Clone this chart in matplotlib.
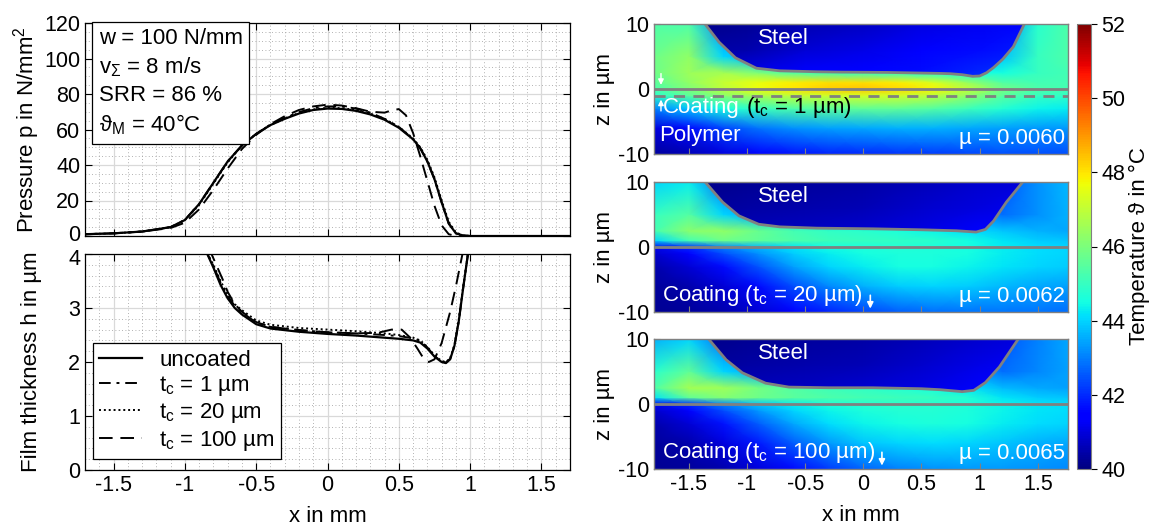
import numpy as np
import matplotlib
matplotlib.use("Agg")
import matplotlib.pyplot as plt
import matplotlib.transforms as mtransforms
from matplotlib.patches import Polygon
from matplotlib.ticker import MultipleLocator, FormatStrFormatter

plt.rcParams['font.family'] = ['Liberation Sans', 'DejaVu Sans']
plt.rcParams['font.size'] = 16
plt.rcParams['xtick.labelsize'] = 15.5
plt.rcParams['ytick.labelsize'] = 15.5
plt.rcParams['mathtext.fontset'] = 'custom'
plt.rcParams['mathtext.rm'] = 'Liberation Sans'
plt.rcParams['mathtext.it'] = 'Liberation Sans:italic'
plt.rcParams['axes.unicode_minus'] = False

# ---- pressure curves (x in mm, p in N/mm^2)
x_p = [-1.7, -1.5, -1.3, -1.1, -1.0, -0.9, -0.8, -0.7, -0.6, -0.5, -0.4, -0.3, -0.2, -0.1, 0.0,
       0.1, 0.2, 0.3, 0.4, 0.5, 0.6, 0.65, 0.7, 0.75, 0.8, 0.85, 0.9, 0.95, 1.0, 1.7]
p_uncoated = [1.0, 1.5, 2.5, 5.0, 9.0, 18, 30, 42, 51, 57.5, 62.5, 66, 69, 71, 71.8,
              71.6, 70.5, 68.5, 65.5, 61, 54.5, 49.5, 42, 32, 19, 7, 1.5, 0.3, 0, 0]
p_1um = [1.0, 1.5, 2.5, 5.0, 9.0, 18, 30, 42, 51, 57.5, 62.8, 66.5, 69.8, 72, 73,
         73, 71.8, 69.5, 66, 61.5, 54.5, 49.5, 42, 32, 19, 7, 1.5, 0.3, 0, 0]
p_20um = [1.0, 1.5, 2.5, 5.0, 9.0, 17.5, 29.5, 41.5, 51, 57.5, 62.5, 66.3, 69.3, 71.3, 72.2,
          72, 71, 69, 66, 61.5, 55, 50, 43, 33, 20, 8, 2, 0.3, 0, 0]
x_p100 = [-1.7, -1.5, -1.3, -1.1, -1.0, -0.9, -0.8, -0.7, -0.6, -0.5, -0.4, -0.3, -0.2, -0.1, 0.0,
          0.1, 0.2, 0.3, 0.4, 0.45, 0.5, 0.55, 0.6, 0.65, 0.7, 0.75, 0.8, 0.85, 0.9, 1.7]
p_100um = [1.0, 1.5, 2.5, 4.5, 7.5, 15, 26, 38, 49, 57, 63, 67.5, 71, 73, 74,
           73.5, 72, 70, 69.5, 70.8, 71.5, 68, 58, 45, 31, 17, 6, 1, 0, 0]

# ---- film thickness curves (x in mm, h in um)
x_h = [-0.86, -0.8, -0.75, -0.7, -0.65, -0.6, -0.5, -0.4, -0.2, 0.0, 0.2, 0.4, 0.5, 0.6, 0.65,
       0.7, 0.75, 0.8, 0.83, 0.86, 0.89, 0.92, 0.95, 0.99]
h_uncoated = [4.1, 3.75, 3.43, 3.18, 3.0, 2.88, 2.7, 2.62, 2.56, 2.52, 2.49, 2.45, 2.43, 2.4, 2.36,
              2.25, 2.1, 2.0, 1.98, 2.05, 2.3, 2.75, 3.35, 4.1]
h_1um = [4.1, 3.78, 3.47, 3.22, 3.04, 2.92, 2.73, 2.65, 2.59, 2.55, 2.53, 2.5, 2.48, 2.44, 2.39,
         2.27, 2.11, 2.01, 1.99, 2.06, 2.3, 2.75, 3.35, 4.1]
h_20um = [4.1, 3.8, 3.5, 3.25, 3.07, 2.96, 2.77, 2.69, 2.63, 2.6, 2.57, 2.53, 2.5, 2.45, 2.4,
          2.28, 2.12, 2.02, 2.0, 2.07, 2.32, 2.78, 3.38, 4.1]
x_h100 = [-0.83, -0.78, -0.73, -0.7, -0.65, -0.6, -0.5, -0.4, -0.2, 0.0, 0.2, 0.35, 0.45, 0.52,
          0.58, 0.63, 0.67, 0.71, 0.75, 0.8, 0.86, 0.9, 0.95, 0.97]
h_100um = [4.1, 3.8, 3.5, 3.3, 3.07, 2.93, 2.74, 2.65, 2.59, 2.55, 2.53, 2.54, 2.6, 2.6,
           2.45, 2.25, 2.08, 2.0, 2.05, 2.35, 2.93, 3.4, 4.05, 4.3]

# ---- temperature fields (deg C); rows = z, cols = x
x_grid = [-1.8, -1.5, -1.2, -0.9, -0.6, -0.3, 0.0, 0.3, 0.6, 0.9, 1.2, 1.5, 1.76]
z_grid = [-10, -6, -3, -1, 0, 1, 2.5, 5, 10]
T_1um = [
    [40.3, 40.6, 41.0, 41.4, 41.7, 41.9, 42.0, 42.1, 42.2, 42.3, 42.4, 42.4, 42.4],
    [41.0, 41.6, 42.3, 42.9, 43.2, 43.4, 43.5, 43.6, 43.6, 43.5, 43.4, 43.3, 43.3],
    [43.0, 43.8, 44.5, 45.0, 45.3, 45.5, 45.6, 45.6, 45.4, 45.1, 44.7, 44.4, 44.3],
    [44.8, 45.5, 46.2, 46.7, 47.0, 47.2, 47.3, 47.2, 46.9, 46.3, 45.5, 45.0, 44.9],
    [45.3, 46.0, 46.9, 47.6, 48.0, 48.3, 48.4, 48.2, 47.8, 47.0, 45.9, 45.3, 45.2],
    [45.5, 46.3, 47.1, 47.6, 47.9, 48.1, 48.1, 47.9, 47.4, 46.4, 45.4, 45.2, 45.2],
    [45.8, 46.5, 46.6, 46.0, 45.3, 45.1, 45.0, 44.9, 44.7, 44.5, 44.5, 45.0, 45.2],
    [45.8, 46.3, 44.0, 43.5, 43.5, 43.5, 43.5, 43.5, 43.5, 43.5, 43.8, 45.0, 45.3],
    [45.3, 45.3, 43.0, 43.0, 43.0, 43.0, 43.0, 43.0, 43.0, 43.0, 43.0, 44.8, 45.3],
]
T_20um = [
    [40.2, 40.3, 40.5, 40.9, 41.4, 41.9, 42.3, 42.6, 42.8, 42.9, 42.9, 42.9, 42.8],
    [40.3, 40.5, 40.9, 41.6, 42.4, 43.1, 43.6, 43.9, 44.0, 43.9, 43.7, 43.5, 43.4],
    [40.5, 40.9, 41.6, 42.5, 43.4, 44.0, 44.3, 44.5, 44.5, 44.4, 44.2, 44.0, 43.9],
    [40.8, 41.5, 42.4, 43.2, 43.9, 44.3, 44.5, 44.6, 44.6, 44.5, 44.3, 44.1, 44.0],
    [41.2, 42.0, 43.0, 43.7, 44.2, 44.5, 44.6, 44.7, 44.6, 44.5, 44.3, 44.1, 44.0],
    [44.0, 45.2, 45.8, 45.6, 45.3, 45.1, 45.0, 44.9, 44.8, 44.5, 44.2, 43.9, 43.8],
    [45.2, 46.2, 46.3, 45.7, 45.2, 44.9, 44.8, 44.6, 44.4, 44.1, 43.8, 43.6, 43.5],
    [45.0, 45.4, 44.0, 43.5, 43.5, 43.5, 43.5, 43.5, 43.5, 43.5, 42.8, 43.2, 43.6],
    [44.0, 44.3, 42.8, 42.8, 42.8, 42.8, 42.8, 42.8, 42.8, 42.8, 42.5, 43.2, 43.7],
]
T_100um = [
    [40.2, 40.3, 40.5, 41.0, 41.6, 42.2, 42.7, 43.0, 43.2, 43.3, 43.3, 43.2, 43.1],
    [40.3, 40.5, 41.0, 41.8, 42.6, 43.3, 43.8, 44.0, 44.1, 44.0, 43.8, 43.6, 43.5],
    [40.5, 40.9, 41.7, 42.6, 43.5, 44.1, 44.4, 44.5, 44.6, 44.5, 44.3, 44.1, 44.0],
    [40.8, 41.5, 42.4, 43.3, 44.0, 44.4, 44.6, 44.7, 44.7, 44.6, 44.4, 44.2, 44.1],
    [41.2, 42.0, 43.0, 43.8, 44.3, 44.6, 44.7, 44.8, 44.7, 44.6, 44.4, 44.2, 44.1],
    [44.2, 45.6, 46.1, 45.8, 45.5, 45.3, 45.2, 45.1, 45.0, 44.7, 44.2, 43.9, 43.8],
    [45.3, 46.6, 46.5, 45.9, 45.4, 45.1, 44.9, 44.7, 44.5, 44.2, 43.7, 43.5, 43.4],
    [44.8, 45.6, 44.0, 43.5, 43.5, 43.5, 43.5, 43.5, 43.5, 43.5, 42.8, 43.1, 43.4],
    [43.6, 44.0, 42.8, 42.8, 42.8, 42.8, 42.8, 42.8, 42.8, 42.8, 42.5, 43.0, 43.5],
]

# steel body temperatures
x_steel = [-1.4, -1.0, -0.5, 0.0, 0.5, 1.0, 1.4]
z_steel = [1.5, 3, 6, 10.5]
Ts_1um = [
    [41.2, 41.3, 41.5, 41.6, 41.8, 42.1, 42.4],
    [40.8, 41.0, 41.3, 41.4, 41.6, 41.9, 42.1],
    [40.4, 40.5, 40.9, 41.1, 41.4, 41.6, 41.8],
    [40.1, 40.2, 40.5, 40.7, 41.0, 41.2, 41.4],
]
Ts_20um = [
    [40.8, 40.8, 40.9, 41.0, 41.2, 41.5, 41.7],
    [40.5, 40.6, 40.7, 40.8, 41.0, 41.3, 41.5],
    [40.3, 40.4, 40.5, 40.6, 40.8, 41.0, 41.2],
    [40.1, 40.2, 40.3, 40.4, 40.6, 40.8, 40.9],
]
Ts_100um = [
    [40.8, 40.8, 40.9, 41.0, 41.2, 41.5, 41.8],
    [40.5, 40.6, 40.7, 40.8, 41.0, 41.3, 41.6],
    [40.3, 40.4, 40.5, 40.6, 40.8, 41.1, 41.3],
    [40.1, 40.2, 40.3, 40.4, 40.6, 40.8, 41.0],
]

# steel surface profiles (x in mm, z in um)
sx_1um = [-1.37, -1.24, -1.10, -0.92, -0.72, -0.4, -0.21, 0.2, 0.66, 0.75, 0.85, 0.94, 1.0,
          1.06, 1.12, 1.2, 1.29, 1.39]
sz_1um = [10.2, 7.2, 4.8, 3.2, 2.8, 2.65, 2.6, 2.55, 2.4, 2.35, 2.2, 1.95, 2.0,
          2.5, 3.3, 4.6, 6.5, 10.2]
sx_20um = [-1.37, -1.21, -1.07, -0.9, -0.72, -0.4, 0.08, 0.5, 0.8, 0.97, 1.05, 1.12, 1.23, 1.38]
sz_20um = [10.2, 6.9, 4.8, 3.5, 3.1, 2.9, 2.8, 2.65, 2.5, 2.3, 2.7, 4.0, 6.9, 10.2]
sx_100um = [-1.34, -1.18, -1.04, -0.84, -0.64, -0.3, 0.08, 0.5, 0.66, 0.85, 0.95, 1.05, 1.17, 1.34]
sz_100um = [10.2, 6.8, 4.8, 3.2, 2.6, 2.5, 2.5, 2.35, 2.2, 1.9, 2.1, 3.3, 5.7, 10.2]

coat_labels = ['(t$_\\mathrm{c}$ = 1 µm)', 'Coating (t$_\\mathrm{c}$ = 20 µm)', 'Coating (t$_\\mathrm{c}$ = 100 µm)']
mu_labels = ['µ = 0.0060', 'µ = 0.0062', 'µ = 0.0065']

W, H = 1158, 528
fig = plt.figure(figsize=(W / 100, H / 100), dpi=100)


def style_left(ax):
    ax.set_xlim(-1.7, 1.7)
    ax.xaxis.set_major_locator(MultipleLocator(0.5))
    ax.xaxis.set_minor_locator(MultipleLocator(0.1))
    ax.xaxis.set_major_formatter(FormatStrFormatter('%g'))
    ax.grid(True, which='major', color='0.85', lw=0.9)
    ax.grid(True, which='minor', color='0.6', ls=(0, (1, 3)), lw=0.6)
    ax.set_axisbelow(True)
    ax.tick_params(which='major', direction='in', top=True, right=True, length=5, width=0.8)
    ax.tick_params(which='minor', length=0)
    for s in ax.spines.values():
        s.set_linewidth(0.9)


# ---- pressure
ax_p = fig.add_axes([85 / W, 1 - 236 / H, 485 / W, 213 / H])
ax_p.plot(x_p, p_uncoated, color='k', lw=1.6, ls='-')
ax_p.plot(x_p, p_1um, color='k', lw=1.4, ls=(0, (6, 3, 1.5, 3)))
ax_p.plot(x_p, p_20um, color='k', lw=1.4, ls=(0, (1, 1.5)))
ax_p.plot(x_p100, p_100um, color='k', lw=1.4, ls=(0, (7, 4)))
style_left(ax_p)
ax_p.set_ylim(0, 120)
ax_p.yaxis.set_major_locator(MultipleLocator(20))
ax_p.yaxis.set_minor_locator(MultipleLocator(5))
ax_p.set_xticklabels([])
ax_p.set_ylabel('Pressure p in N/mm$^2$')
ax_p.yaxis.set_label_coords(-0.088, 0.5)
ax_p.text(0.028, 0.975,
          'w = 100 N/mm\nv$_\\Sigma$ = 8 m/s\nSRR = 86 %\nϑ$_\\mathrm{M}$ = 40°C',
          transform=ax_p.transAxes, va='top', ha='left', linespacing=1.35,
          bbox=dict(boxstyle='square,pad=0.3', fc='white', ec='black', lw=0.9))

# ---- film thickness
ax_h = fig.add_axes([85 / W, 1 - 470 / H, 485 / W, 216 / H])
ax_h.plot(x_h, h_uncoated, color='k', lw=1.6, ls='-', label='uncoated')
ax_h.plot(x_h, h_1um, color='k', lw=1.4, ls=(0, (6, 3, 1.5, 3)), label='t$_\\mathrm{c}$ = 1 µm')
ax_h.plot(x_h, h_20um, color='k', lw=1.4, ls=(0, (1, 1.5)), label='t$_\\mathrm{c}$ = 20 µm')
ax_h.plot(x_h100, h_100um, color='k', lw=1.4, ls=(0, (7, 4)), label='t$_\\mathrm{c}$ = 100 µm')
style_left(ax_h)
ax_h.set_ylim(0, 4)
ax_h.yaxis.set_major_locator(MultipleLocator(1))
ax_h.yaxis.set_minor_locator(MultipleLocator(0.2))
ax_h.set_ylabel('Film thickness h in µm')
ax_h.yaxis.set_label_coords(-0.088, 0.5)
ax_h.set_xlabel('x in mm', labelpad=7)
leg = ax_h.legend(loc='lower left', bbox_to_anchor=(0.016, 0.05), borderaxespad=0,
                  fancybox=False, framealpha=1, edgecolor='k', handlelength=1.9,
                  handletextpad=0.8, labelspacing=0.15, borderpad=0.3)
leg.get_frame().set_linewidth(0.9)

# keep the "0" (top) and "4" (bottom) tick labels from colliding
fig.canvas.draw()
up = mtransforms.ScaledTranslation(0, 2.5 / 72, fig.dpi_scale_trans)
down = mtransforms.ScaledTranslation(0, -2.5 / 72, fig.dpi_scale_trans)
for tick in ax_p.yaxis.get_major_ticks():
    if abs(tick.get_loc()) < 1e-9:
        tick.label1.set_transform(tick.label1.get_transform() + up)
for tick in ax_h.yaxis.get_major_ticks():
    if abs(tick.get_loc() - 4) < 1e-9:
        tick.label1.set_transform(tick.label1.get_transform() + down)

# ---- temperature maps
fields = [T_1um, T_20um, T_100um]
steels = [Ts_1um, Ts_20um, Ts_100um]
profiles = [(sx_1um, sz_1um), (sx_20um, sz_20um), (sx_100um, sz_100um)]
tops = [24, 182, 339]
XX, ZZ = np.meshgrid(x_grid, z_grid)
XS, ZS = np.meshgrid(x_steel, z_steel)
gray = '#808080'
mesh = None
for i in range(3):
    ax = fig.add_axes([654 / W, 1 - (tops[i] + 130) / H, 414 / W, 130 / H])
    mesh = ax.pcolormesh(XX, ZZ, np.array(fields[i]), shading='gouraud', cmap='jet', vmin=40, vmax=52)
    sm = ax.pcolormesh(XS, ZS, np.array(steels[i]), shading='gouraud', cmap='jet', vmin=40, vmax=52)
    sx, sz = profiles[i]
    poly = Polygon(list(zip(sx, sz)) + [(sx[-1], 11), (sx[0], 11)], closed=True,
                   transform=ax.transData, fc='none', ec='none')
    sm.set_clip_path(poly)
    ax.plot(sx, sz, color=gray, lw=2)
    ax.axhline(0, color=gray, lw=2)
    ax.set_xlim(-1.8, 1.76)
    ax.set_ylim(-10, 10)
    ax.set_yticks([-10, 0, 10])
    ax.set_xticks([-1.5, -1, -0.5, 0, 0.5, 1, 1.5])
    ax.xaxis.set_major_formatter(FormatStrFormatter('%g'))
    ax.tick_params(direction='in', length=4, color=gray)
    for s in ax.spines.values():
        s.set_color(gray)
        s.set_linewidth(1)
    ax.set_ylabel('z in µm')
    ax.yaxis.set_label_coords(-0.095, 0.5)
    ax.text(-0.69, 7.8, 'Steel', color='white', ha='center', va='center')
    ax.text(1.73, -7.6, mu_labels[i], color='white', ha='right', va='center')
    if i == 0:
        ax.axhline(-1, color=gray, lw=2, ls=(0, (4, 3)))
        t1 = ax.text(-1.72, -2.9, 'Coating', color='white', ha='left', va='center')
        ax.annotate(' ' + coat_labels[0], xy=(1, 0.5), xycoords=t1, va='center', ha='left', color='black')
        ax.text(-1.76, -7.2, 'Polymer', color='white', ha='left', va='center')
        ax.annotate('', xy=(-1.74, 0.2), xytext=(-1.74, 2.8),
                    arrowprops=dict(arrowstyle='-|>', color='white', lw=1, mutation_scale=8))
        ax.annotate('', xy=(-1.74, -1.2), xytext=(-1.74, -3.8),
                    arrowprops=dict(arrowstyle='-|>', color='white', lw=1, mutation_scale=8))
    else:
        ax.text(-1.73, -7.5, coat_labels[i], color='white', ha='left', va='center')
        ax_x = 0.06 if i == 1 else 0.16
        ax.annotate('', xy=(ax_x, -9.9), xytext=(ax_x, -7.0),
                    arrowprops=dict(arrowstyle='-|>', color='white', lw=1.2, mutation_scale=9))
    if i < 2:
        ax.set_xticklabels([])
    else:
        ax.set_xlabel('x in mm', labelpad=7)

cax = fig.add_axes([1077 / W, 1 - 469 / H, 14 / W, 445 / H])
cb = fig.colorbar(mesh, cax=cax)
cb.set_ticks([40, 42, 44, 46, 48, 50, 52])
cb.outline.set_linewidth(0.8)
cb.outline.set_edgecolor(gray)
cax.tick_params(length=4, color='k')
cb.set_label('Temperature ϑ in °C')
cax.yaxis.set_label_coords(3.7, 0.5)

fig.savefig('out.png', dpi=100)
